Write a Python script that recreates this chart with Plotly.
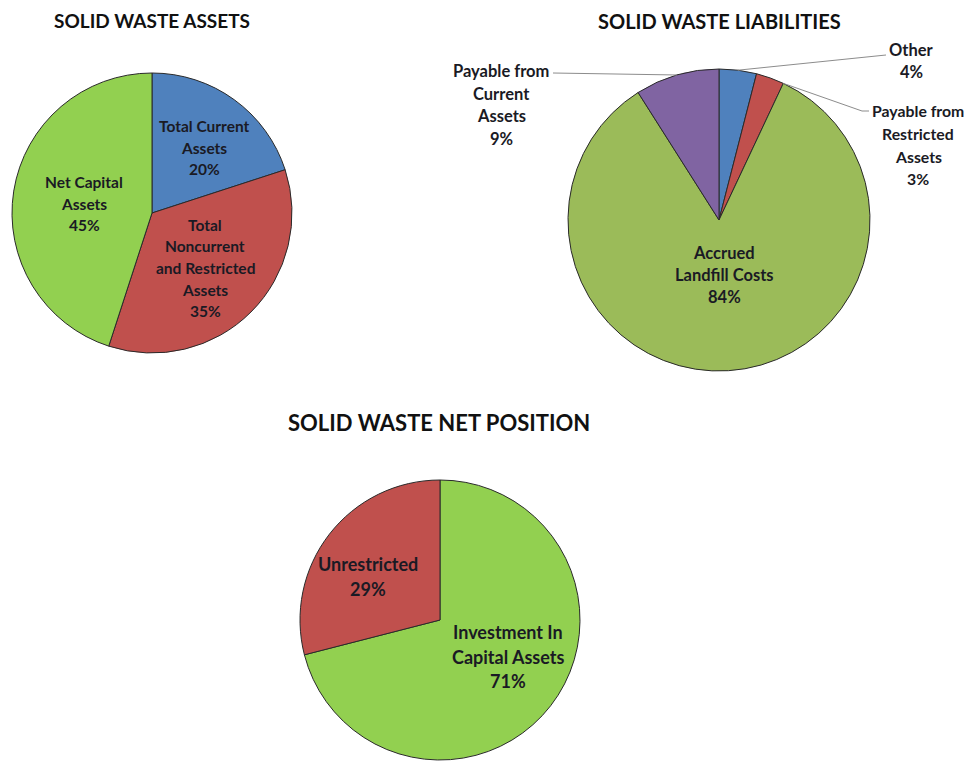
import math
import plotly.graph_objects as go

# page has an 8px body margin; figure is placed at (OFF, OFF)
OFF = 8
W, H = 975 - OFF, 761 - OFF

# ---------------- data ----------------
assets_labels = ["Total Current<br>Assets", "Total<br>Noncurrent<br>and Restricted<br>Assets", "Net Capital<br>Assets"]
assets_values = [20, 35, 45]
assets_colors = ["#4F81BD", "#C0504D", "#92D050"]

liab_labels = ["Other", "Payable from<br>Restricted<br>Assets", "Accrued<br>Landfill Costs", "Payable from<br>Current<br>Assets"]
liab_values = [4, 3, 84, 9]
liab_colors = ["#4F81BD", "#C0504D", "#9BBB59", "#8064A2"]

net_labels = ["Investment In<br>Capital Assets", "Unrestricted"]
net_values = [71, 29]
net_colors = ["#92D050", "#C0504D"]

titles = ["SOLID WASTE ASSETS", "SOLID WASTE LIABILITIES", "SOLID WASTE NET POSITION"]

FONT = "Lato"
TXT = "#1a1a24"


def px(x):
    return (x - OFF) / W


def py(y):
    return 1 - (y - OFF) / H


def domain(cx, cy, r):
    return dict(x=[px(cx - r), px(cx + r)], y=[py(cy + r), py(cy - r)])


fig = go.Figure()

pies = [
    (assets_labels, assets_values, assets_colors, (152, 213, 140)),
    (liab_labels, liab_values, liab_colors, (719, 220, 151)),
    (net_labels, net_values, net_colors, (440, 620, 140)),
]
for labels, values, colors, (cx, cy, r) in pies:
    fig.add_trace(go.Pie(
        labels=[l.replace("<br>", " ") for l in labels],
        values=values,
        marker=dict(colors=colors, line=dict(color="#2a2a2a", width=1)),
        sort=False, direction="clockwise", rotation=0,
        textinfo="none", hoverinfo="label+percent",
        domain=domain(cx, cy, r), showlegend=False,
    ))

annotations = []


def add_lines(text, cx, y_top, size, spacing):
    for i, line in enumerate(text.split("<br>")):
        annotations.append(dict(
            x=px(cx), y=py(y_top + i * spacing), xref="paper", yref="paper",
            text="<b>%s</b>" % line, showarrow=False, xanchor="center", yanchor="middle",
            font=dict(family=FONT, size=size, color=TXT)))


def pct_text(labels, values, i):
    tot = sum(values)
    return labels[i] + "<br>" + "%d%%" % round(100 * values[i] / tot)


# titles (top two anchored at the top edge of the figure)
for t, (x, y, s, anc) in zip(titles, [(152, 8, 19, "top"), (719, 8, 20, "top"), (439, 423, 22, "middle")]):
    annotations.append(dict(x=px(x), y=py(y), xref="paper", yref="paper", text="<b>%s</b>" % t,
                            showarrow=False, xanchor="center", yanchor=anc, borderpad=0,
                            font=dict(family=FONT, size=s, color="#111111")))

# assets labels
S1, S2, S3 = 15.5, 16.5, 18
add_lines(pct_text(assets_labels, assets_values, 0), 204, 126, S1, 21.5)
add_lines(pct_text(assets_labels, assets_values, 1), 205, 225, S1, 21.5)
add_lines(pct_text(assets_labels, assets_values, 2), 84, 182, S1, 21.5)

# liabilities labels
add_lines(pct_text(liab_labels, liab_values, 0), 911, 50, S2, 22)
add_lines(pct_text(liab_labels, liab_values, 1), 918, 111, 15.8, 22.5)
add_lines(pct_text(liab_labels, liab_values, 2), 724, 253, S2, 22)
add_lines(pct_text(liab_labels, liab_values, 3), 501, 71, S2, 22.5)

# net position labels
add_lines(pct_text(net_labels, net_values, 1), 368, 564, S3, 24.5)
add_lines(pct_text(net_labels, net_values, 0), 508, 632, S3, 24.5)


def slice_point(values, i, frac, cx, cy, r):
    tot = sum(values)
    start = sum(values[:i])
    f = (start + frac * values[i]) / tot
    ang = 2 * math.pi * f
    return cx + r * math.sin(ang), cy - r * math.cos(ang)


cx2, cy2, r2 = 719, 220, 151
shapes = []
lc = dict(color="#8c8c8c", width=1)
# Other
x1, y1 = slice_point(liab_values, 0, 0.5, cx2, cy2, r2)
shapes.append(dict(type="line", xref="paper", yref="paper", x0=px(886), y0=py(55), x1=px(x1), y1=py(y1), line=lc))
# Payable from restricted
x1, y1 = slice_point(liab_values, 1, 1.0, cx2, cy2, r2)
shapes.append(dict(type="line", xref="paper", yref="paper", x0=px(869), y0=py(111), x1=px(862), y1=py(111), line=lc))
shapes.append(dict(type="line", xref="paper", yref="paper", x0=px(862), y0=py(111), x1=px(x1), y1=py(y1), line=lc))
# Payable from current
x1, y1 = slice_point(liab_values, 3, 0.5, cx2, cy2, r2)
shapes.append(dict(type="line", xref="paper", yref="paper", x0=px(553), y0=py(73), x1=px(x1), y1=py(y1), line=lc))

fig.update_layout(
    width=W, height=H,
    margin=dict(l=0, r=0, t=0, b=0),
    paper_bgcolor="white", plot_bgcolor="white",
    annotations=annotations, shapes=shapes,
    font=dict(family=FONT),
)

fig.write_html("out.html")
